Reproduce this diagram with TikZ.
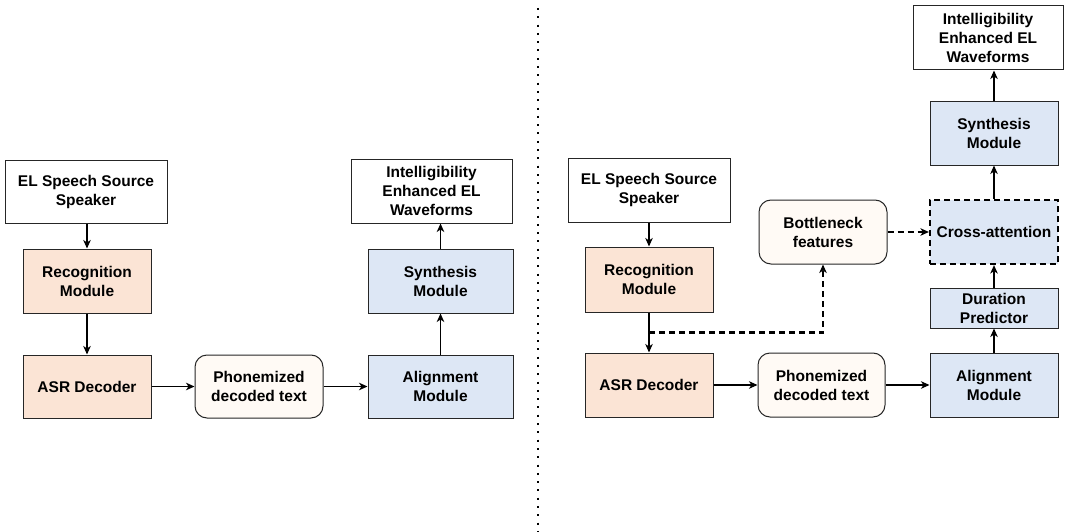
\documentclass[tikz,border=0pt]{standalone}
\usepackage{fontspec}
\setmainfont{Liberation Sans}
\usetikzlibrary{arrows.meta,calc}
\definecolor{recfill}{HTML}{FBE4D5}
\definecolor{synfill}{HTML}{DDE7F5}
\definecolor{txtfill}{HTML}{FFFAF5}
\tikzset{
  box/.style={draw=black!85, line width=1pt, inner sep=0pt, align=center,
    font=\bfseries\fontsize{15.5}{19}\selectfont},
  plainbox/.style={box, fill=white},
  recbox/.style={box, fill=recfill},
  synbox/.style={box, fill=synfill},
  txtbox/.style={box, fill=txtfill, rounded corners=12pt},
  dashbox/.style={box, fill=synfill, draw=black, line width=2.2pt, dash pattern=on 6pt off 4pt},
  arr/.style={-{Stealth[length=8.5pt,width=7.5pt,inset=2.5pt]}, line width=1.3pt, black},
  darr/.style={arr, line width=2.2pt, dash pattern=on 6pt off 4pt},
  divider/.style={line width=2pt, dash pattern=on 2pt off 6.3pt}
}
\begin{document}
\begin{tikzpicture}[x=1pt,y=-1pt]
\useasboundingbox (0,0) rectangle (1065,532);

% ---- pipeline without bottleneck features ----
\node[plainbox, minimum width=162pt, minimum height=63pt] (src) at (86,191.5) {EL Speech Source\\Speaker};
\node[recbox, minimum width=128pt, minimum height=64pt] (rec) at (87,281) {Recognition\\Module};
\node[recbox, minimum width=128pt, minimum height=63pt] (asr) at (87,386.5) {ASR Decoder};
\node[txtbox, minimum width=128pt, minimum height=63pt] (pho) at (259,386.5) {Phonemized\\decoded text};
\node[synbox, minimum width=145pt, minimum height=63pt] (ali) at (440.5,386.5) {Alignment\\Module};
\node[synbox, minimum width=145pt, minimum height=64pt] (syn) at (440.5,281) {Synthesis\\Module};
\node[plainbox, minimum width=161pt, minimum height=64pt] (out) at (431.5,191) {Intelligibility\\Enhanced EL\\Waveforms};

\draw[arr] (src.south -| rec.north) -- (rec.north);
\draw[arr] (rec.south) -- (asr.north);
\draw[arr] (asr.east) -- (pho.west);
\draw[arr] (pho.east) -- (ali.west);
\draw[arr] (ali.north) -- (syn.north |- syn.south);
\draw[arr] (syn.north) -- (syn.north |- out.south);

% ---- divider ----
\coordinate (divtop) at (538,8);
\coordinate (divbot) at (538,532);
\draw[divider] (divtop) -- (divbot);

% ---- pipeline with bottleneck features and cross-attention ----
\node[plainbox, minimum width=162pt, minimum height=64pt] (src2) at (649,190) {EL Speech Source\\Speaker};
\node[recbox, minimum width=128pt, minimum height=65pt] (rec2) at (649,279.5) {Recognition\\Module};
\node[recbox, minimum width=128pt, minimum height=64pt] (asr2) at (649,385) {ASR Decoder};
\node[txtbox, minimum width=127pt, minimum height=64pt] (pho2) at (821.5,385) {Phonemized\\decoded text};
\node[synbox, minimum width=128pt, minimum height=64pt] (ali2) at (994,385) {Alignment\\Module};
\node[synbox, minimum width=128pt, minimum height=40pt] (dur) at (994,308) {Duration\\Predictor};
\node[dashbox, minimum width=128pt, minimum height=64pt] (cross) at (994,232) {Cross-attention};
\node[synbox, minimum width=128pt, minimum height=63pt] (syn2) at (994,133.5) {Synthesis\\Module};
\node[plainbox, minimum width=150pt, minimum height=64pt] (out2) at (988,38) {Intelligibility\\Enhanced EL\\Waveforms};
\node[txtbox, minimum width=128pt, minimum height=64pt] (bot) at (823,232) {Bottleneck\\features};

\draw[arr] (src2.south) -- (rec2.north);
\draw[arr] (rec2.south) -- (asr2.north);
\draw[arr] (asr2.east) -- (pho2.west);
\draw[arr] (pho2.east) -- (ali2.west);
\draw[arr] (ali2.north) -- (dur.south);
\draw[arr] (dur.north) -- (cross.south);
\draw[arr] (cross.north) -- (syn2.south);
\draw[arr] (syn2.north) -- (syn2.north |- out2.south);
\draw[darr] (rec2.south) -- ++(0,20) -| (bot.south);
\draw[darr] (bot.east) -- (cross.west);
\end{tikzpicture}
\end{document}
